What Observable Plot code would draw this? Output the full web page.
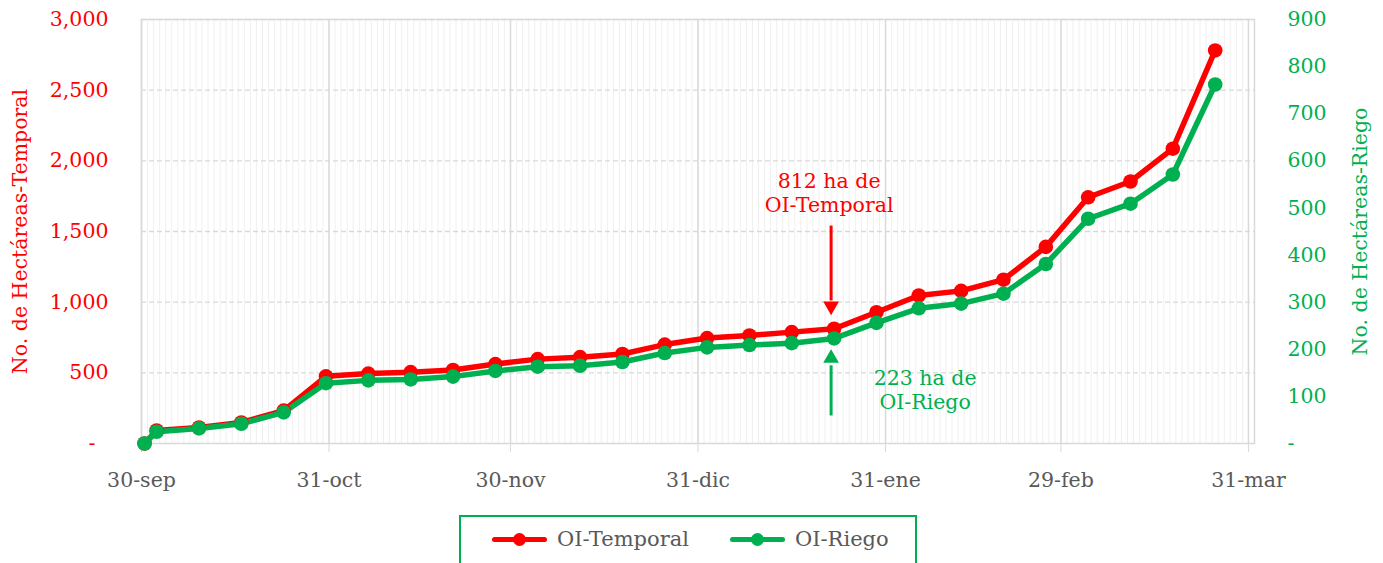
<!DOCTYPE html>
<html><head><meta charset="utf-8">
<script src="https://cdn.jsdelivr.net/npm/d3@7"></script>
<script src="https://cdn.jsdelivr.net/npm/@observablehq/plot@0.6"></script>
<style>
body{margin:0;background:#fff;font-family:"DejaVu Serif",serif;}
#wrap{position:relative;width:1383px;height:563px;overflow:hidden;}
#legend{position:absolute;left:459px;top:515px;width:458px;height:60px;border:2px solid #00B050;box-sizing:border-box;}
.item{position:absolute;top:10px;font-size:21px;color:#595959;display:flex;align-items:center;}
.sw{position:relative;width:55px;height:20px;margin-right:10px;}
.sw .ln{position:absolute;left:0;top:8px;width:55px;height:5px;border-radius:3px;}
.sw .dt{position:absolute;left:21px;top:4px;width:13px;height:13px;border-radius:50%;}
</style></head><body>
<div id="wrap"><div id="chart"></div><div id="legend"></div></div>
<script>
const dates = ["2023-09-30","2023-10-02","2023-10-09","2023-10-16","2023-10-23","2023-10-30","2023-11-06","2023-11-13","2023-11-20","2023-11-27","2023-12-04","2023-12-11","2023-12-18","2023-12-25","2024-01-01","2024-01-08","2024-01-15","2024-01-22","2024-01-29","2024-02-05","2024-02-12","2024-02-19","2024-02-26","2024-03-04","2024-03-11","2024-03-18","2024-03-25"];
const temporal = [0,92,113,149,233,475,495,505,520,562,597,611,633,700,746,764,788,812,929,1047,1080,1159,1391,1742,1854,2086,2781];
const riego = [0,25,32,42,66,128,134,136,142,154,163,165,173,192,204,209,213,223,256,287,297,318,381,477,509,571,762];
const seriesNames = ["OI-Temporal","OI-Riego"];
const seriesColors = ["#FF0000","#00B050"];
const tickDates = ["2023-09-30","2023-10-31","2023-11-30","2023-12-31","2024-01-31","2024-02-29","2024-03-31"];
const tickLabels = ["30-sep","31-oct","30-nov","31-dic","31-ene","29-feb","31-mar"];
const leftTicks = [0,500,1000,1500,2000,2500,3000];
const rightTicks = [0,100,200,300,400,500,600,700,800,900];
const annotDate = "2024-01-22";
const annotTemporal = ["812 ha de","OI-Temporal"];
const annotRiego = ["223 ha de","OI-Riego"];

const ratio = 3000/900;
const noon = s => new Date(s + "T12:00:00Z");
const mid = s => new Date(s + "T00:00:00Z");
const rows = [];
dates.forEach((d,i)=>{
  rows.push({date: noon(d), v: temporal[i], s: seriesNames[0]});
  rows.push({date: noon(d), v: riego[i]*ratio, s: seriesNames[1]});
});
const x0 = mid("2023-09-30"), x1 = mid("2024-04-01");
const days = d3.utcDay.range(x0, x1);
const majors = tickDates.map(mid);
const ai = dates.indexOf(annotDate);
const aDate = noon(annotDate);
const tVal = temporal[ai], rVal = riego[ai]*ratio;
const fmtL = v => v === 0 ? "-\u00a0\u00a0" : d3.format(",")(v);
const fmtR = v => v === 0 ? "-" : String(Math.round(v/ratio));
const font = "DejaVu Serif";
const fs = 20.5;

const chart = Plot.plot({
  width: 1383, height: 505,
  marginTop: 19, marginBottom: 62, marginLeft: 141, marginRight: 129,
  style: {fontFamily: font, background: "#fff"},
  x: {type: "utc", domain: [x0, x1], axis: null},
  y: {domain: [0, 3000], axis: null},
  color: {domain: seriesNames, range: seriesColors},
  marks: [
    Plot.ruleX(days, {stroke: "#f0f0f0", strokeWidth: 1}),
    Plot.ruleY(leftTicks.slice(1), {stroke: "#d9d9d9", strokeWidth: 1.3, strokeDasharray: "5,3"}),
    Plot.ruleX(majors, {stroke: "#d9d9d9", strokeWidth: 1.5}),
    Plot.frame({stroke: "#d9d9d9", strokeWidth: 1.5}),
    Plot.axisX(majors, {tickFormat: (d,i) => tickLabels[i], tickSize: 9, tickPadding: 20, stroke: "#d9d9d9", fill: "#595959", fontSize: fs, fontFamily: font}),
    Plot.axisY(leftTicks, {anchor: "left", tickSize: 0, tickPadding: 33, fill: "#FF0000", fontSize: fs, tickFormat: fmtL, label: null}),
    Plot.axisY(rightTicks.map(v=>v*ratio), {anchor: "right", tickSize: 0, tickPadding: 33, fill: "#00B050", fontSize: fs, tickFormat: fmtR, label: null}),
    Plot.text(["No. de Hectáreas-Temporal"], {frameAnchor: "left", textAnchor: "middle", dx: -121, rotate: -90, fill: "#FF0000", fontSize: fs}),
    Plot.text(["No. de Hectáreas-Riego"], {frameAnchor: "right", textAnchor: "middle", dx: 106, rotate: -90, fill: "#00B050", fontSize: fs}),
    Plot.line(rows, {x: "date", y: "v", z: "s", stroke: "s", strokeWidth: 5.5}),
    Plot.dot(rows, {x: "date", y: "v", fill: "s", r: 7.3}),
    // annotation arrows
    Plot.link([{d: aDate}], {x1: "d", x2: "d", y1: () => tVal + 730, y2: () => tVal + 200, stroke: "#FF0000", strokeWidth: 3, dx: -3}),
    Plot.dot([{d: aDate}], {x: "d", y: () => tVal + 160, symbol: "triangle2", rotate: 180, r: 7.5, fill: "#FF0000", dx: -3}),
    Plot.link([{d: aDate}], {x1: "d", x2: "d", y1: () => rVal - 545, y2: () => rVal - 190, stroke: "#00B050", strokeWidth: 3, dx: -3}),
    Plot.dot([{d: aDate}], {x: "d", y: () => rVal - 140, symbol: "triangle2", r: 7.5, fill: "#00B050", dx: -3}),
    Plot.text([annotTemporal.join("\n")], {x: () => aDate, y: () => tVal + 966, fill: "#FF0000", fontSize: fs, lineHeight: 1.17, dx: -5}),
    Plot.text([annotRiego.join("\n")], {x: () => aDate, y: () => rVal - 362, fill: "#00B050", fontSize: fs, lineHeight: 1.17, dx: 91})
  ]
});
document.getElementById("chart").appendChild(chart);

const leg = document.getElementById("legend");
const lefts = [31, 269];
seriesNames.forEach((n,i)=>{
  const it = document.createElement("div");
  it.className = "item"; it.style.left = lefts[i] + "px";
  it.innerHTML = `<span class="sw"><span class="ln" style="background:${seriesColors[i]}"></span><span class="dt" style="background:${seriesColors[i]}"></span></span><span>${n}</span>`;
  leg.appendChild(it);
});
</script>
</body></html>
